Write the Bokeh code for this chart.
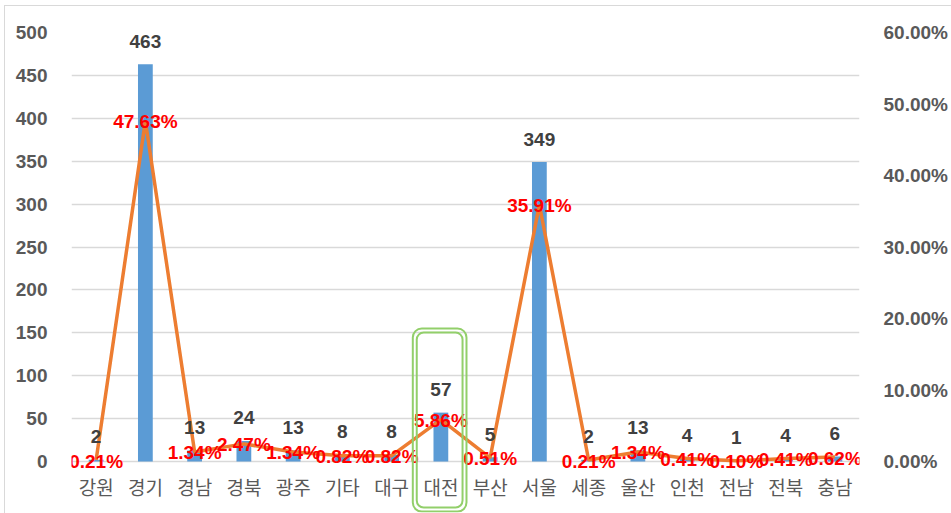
from bokeh.plotting import figure
from bokeh.models import (Range1d, LinearAxis, FixedTicker, NumeralTickFormatter,
                          ColumnDataSource, BoxAnnotation)
from bokeh.core.properties import value
from bokeh.embed import file_html
from bokeh.resources import INLINE

# Regions and counts
regions = ["강원", "경기", "경남", "경북", "광주", "기타", "대구", "대전",
           "부산", "서울", "세종", "울산", "인천", "전남", "전북", "충남"]
counts = [2, 463, 13, 24, 13, 8, 8, 57, 5, 349, 2, 13, 4, 1, 4, 6]
shares = [0.0021, 0.4763, 0.0134, 0.0247, 0.0134, 0.0082, 0.0082, 0.0586,
          0.0051, 0.3591, 0.0021, 0.0134, 0.0041, 0.0010, 0.0041, 0.0062]
share_labels = ["0.21%", "47.63%", "1.34%", "2.47%", "1.34%", "0.82%", "0.82%", "5.86%",
                "0.51%", "35.91%", "0.21%", "1.34%", "0.41%", "0.10%", "0.41%", "0.62%"]
left_ticks = [0, 50, 100, 150, 200, 250, 300, 350, 400, 450, 500]
right_ticks = [0, 0.1, 0.2, 0.3, 0.4, 0.5, 0.6]
highlight = "대전"

# The frame reaches below zero so the category names and the highlight box sit inside it
y_lo, y_hi = -59.4, 500
ratio = 0.6 / 500

src = ColumnDataSource(dict(
    region=regions, count=counts, share=shares,
    count_text=[str(c) for c in counts], share_text=share_labels,
    label_y=[-29.5] * len(regions),
))

p = figure(x_range=regions, y_range=Range1d(y_lo, y_hi),
           width=947, height=508, output_backend="svg", toolbar_location=None,
           x_axis_location=None, min_border_left=66, min_border_right=93,
           min_border_top=26, min_border_bottom=2)
p.margin = (5, 0, 0, 4)
p.styles = {"border-top": "1px solid #D9D9D9", "border-left": "1px solid #D9D9D9"}
p.outline_line_color = None
p.background_fill_color = "white"
p.border_fill_color = "white"
p.extra_y_ranges = {"pct": Range1d(y_lo * ratio, y_hi * ratio)}

tick_font = dict(major_label_text_font="Liberation Sans",
                 major_label_text_font_style="bold",
                 major_label_text_font_size="19px",
                 major_label_text_color="#595959")

yl = p.yaxis[0]
yl.ticker = FixedTicker(ticks=left_ticks)
yl.axis_line_color = None
yl.major_tick_line_color = None
yl.minor_tick_line_color = None
yl.major_label_standoff = 18
for k, v in tick_font.items():
    setattr(yl, k, v)

yr = LinearAxis(y_range_name="pct", ticker=FixedTicker(ticks=right_ticks),
                formatter=NumeralTickFormatter(format="0.00%"),
                axis_line_color=None, major_tick_line_color=None,
                minor_tick_line_color=None, major_label_standoff=18, **tick_font)
p.add_layout(yr, "right")

p.xgrid.grid_line_color = None
p.ygrid.ticker = FixedTicker(ticks=left_ticks)
p.ygrid.grid_line_color = "#D9D9D9"
p.ygrid.grid_line_width = 1.3

# Highlight box around one region (double outline)
i = regions.index(highlight)
p.add_layout(BoxAnnotation(left=i - 0.07, right=i + 1.02, top=155, bottom=-58.3,
                           fill_alpha=0, line_color="#92CF6A", line_alpha=1,
                           line_width=2, border_radius=9))
p.add_layout(BoxAnnotation(left=i + 0.01, right=i + 0.94, top=150.3, bottom=-53.6,
                           fill_alpha=0, line_color="#92CF6A", line_alpha=1,
                           line_width=2, border_radius=7))

p.vbar(x="region", top="count", width=0.30, source=src,
       fill_color="#5B9BD5", line_color=None)
p.line(x="region", y="share", source=src, y_range_name="pct",
       line_color="#ED7D31", line_width=3.5)

p.text(x="region", y="label_y", text="region", source=src,
       text_font=value("Noto Sans CJK KR"), text_font_size="19px",
       text_color="#595959", text_align="center", text_baseline="middle")

p.text(x="region", y="count", text="count_text", source=src,
       text_font=value("Liberation Sans"), text_font_style="bold",
       text_font_size="19px", text_color="#404040",
       text_align="center", text_baseline="middle", y_offset=-23)

p.text(x="region", y="share", text="share_text", source=src, y_range_name="pct",
       text_font=value("Liberation Sans"), text_font_style="bold",
       text_font_size="19px", text_color="#FF0000",
       text_align="center", text_baseline="middle", y_offset=1)

open("out.html", "w").write(file_html(p, INLINE))
